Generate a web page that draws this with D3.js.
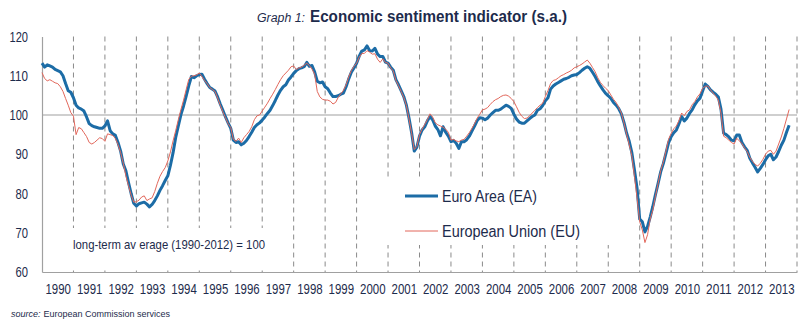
<!DOCTYPE html>
<html>
<head>
  <meta charset="UTF-8">
  <title>Economic sentiment indicator</title>
  <style>
    body { margin: 0; background: #fff; }
    svg { display: block; }
    text { font-family: "Liberation Sans", Arial, sans-serif; fill: #1d2b4c; }
  </style>
</head>
<body>
<svg id="chart"></svg>

<script src="https://d3js.org/d3.v7.min.js"></script>
<script>

// tick labels
const years = d3.range(1990, 2014);
const yTicks = [60, 70, 80, 90, 100, 110, 120];

// Euro Area, monthly from Jan 1990
const eaValues = [
  113.2, 112.2, 112.8, 112.5, 112.2, 111.6, 111.3, 111.0, 110.0, 108.0, 106.2, 105.8, // 1990
  104.4, 102.5, 101.8, 101.5, 101.0, 99.5, 97.8, 97.3, 97.0, 96.8, 96.6, 96.6,        // 1991
  97.2, 98.5, 96.0, 95.2, 94.8, 93.0, 90.8, 87.5, 85.8, 82.8, 80.0, 77.5,             // 1992
  76.8, 77.4, 77.6, 77.8, 77.3, 76.6, 77.2, 78.2, 79.4, 80.8, 82.0, 83.3,             // 1993
  84.5, 87.2, 90.4, 94.3, 97.2, 100.1, 102.3, 104.8, 107.5, 109.8, 109.5, 110.0,      // 1994
  110.3, 110.4, 109.1, 108.0, 107.0, 106.6, 106.1, 104.6, 102.8, 101.2, 99.5, 98.0,   // 1995
  96.6, 93.6, 93.0, 93.2, 92.4, 92.8, 93.5, 94.5, 95.6, 96.8, 97.5, 98.0,             // 1996
  98.7, 99.5, 100.4, 101.2, 102.4, 103.7, 105.1, 106.3, 107.2, 107.7, 108.9, 109.7,   // 1997
  110.6, 111.3, 111.8, 112.0, 112.3, 113.4, 112.4, 112.6, 111.0, 108.6, 108.2, 108.4, // 1998
  107.2, 106.7, 105.6, 104.7, 104.7, 104.9, 105.3, 105.6, 107.2, 109.2, 110.9, 112.0, // 1999
  113.2, 115.0, 116.3, 116.6, 117.6, 116.4, 116.3, 117.0, 115.5, 114.9, 114.9, 113.5, // 2000
  113.2, 112.2, 111.4, 109.0, 107.7, 106.2, 104.7, 102.5, 99.2, 95.5, 90.8, 91.8,     // 2001
  94.6, 96.2, 97.0, 98.5, 99.6, 98.8, 97.2, 96.3, 94.7, 97.0, 95.6, 94.6,             // 2002
  93.2, 93.5, 92.8, 91.5, 93.2, 93.2, 93.7, 94.6, 95.9, 97.2, 98.6, 99.3,             // 2003
  99.2, 98.8, 99.2, 100.0, 100.6, 101.2, 101.2, 101.5, 102.0, 102.5, 102.2, 101.7,    // 2004
  100.2, 99.0, 98.2, 97.9, 97.9, 98.5, 99.1, 99.6, 100.0, 101.2, 101.6, 102.4,        // 2005
  103.6, 104.4, 106.6, 107.4, 107.9, 108.3, 108.7, 109.1, 109.3, 109.6, 110.0, 110.2, // 2006
  110.3, 110.8, 111.4, 111.9, 112.3, 111.9, 110.9, 109.8, 108.5, 107.4, 106.4, 105.5, // 2007
  104.9, 104.2, 103.2, 102.5, 101.6, 100.3, 98.1, 95.4, 93.3, 90.4, 86.0, 81.3,       // 2008
  73.5, 72.8, 70.2, 71.6, 74.0, 76.7, 79.7, 82.5, 85.5, 87.6, 90.2, 92.9,             // 2009
  94.5, 95.5, 96.2, 97.8, 99.6, 98.5, 99.2, 100.4, 101.3, 102.6, 103.6, 104.3,        // 2010
  106.1, 107.9, 107.3, 106.4, 105.8, 105.3, 104.6, 101.5, 95.4, 95.0, 94.4, 93.6,     // 2011
  93.4, 94.9, 94.9, 93.0, 91.9, 91.0, 89.0, 87.8, 86.7, 85.5, 86.4, 87.4,             // 2012
  88.6, 89.6, 90.0, 88.6, 89.3, 90.7, 92.3, 93.6, 95.6, 97.4                          // 2013
];

// European Union, monthly from Jan 1990
const euValues = [
  110.8, 109.3, 108.7, 109.0, 108.6, 108.2, 108.0, 107.2, 106.0, 104.2, 102.5, 100.6, // 1990
  99.7, 95.0, 96.8, 96.5, 95.5, 94.5, 93.0, 92.6, 93.0, 93.6, 94.2, 94.0,             // 1991
  93.3, 95.2, 95.0, 94.8, 94.0, 92.5, 90.4, 87.7, 84.5, 82.0, 79.6, 77.8,             // 1992
  77.9, 78.3, 79.1, 79.4, 78.2, 78.6, 78.9, 80.5, 82.6, 84.4, 85.6, 86.6,             // 1993
  88.3, 90.6, 93.4, 96.0, 98.8, 101.4, 103.8, 106.5, 109.1, 109.9, 110.0, 110.2,      // 1994
  110.7, 109.8, 108.8, 108.0, 107.0, 106.5, 106.0, 104.3, 102.5, 100.8, 99.3, 97.8,   // 1995
  96.8, 93.8, 93.3, 94.1, 93.0, 94.2, 95.0, 95.8, 97.0, 98.8, 99.8, 100.0,            // 1996
  101.0, 102.0, 103.0, 104.2, 105.3, 106.5, 107.8, 109.0, 110.0, 110.7, 111.4, 112.3, // 1997
  112.5, 111.6, 112.0, 112.2, 112.7, 113.2, 112.6, 111.7, 110.4, 106.0, 104.6, 104.0, // 1998
  103.8, 103.8, 103.5, 102.8, 103.2, 104.5, 105.4, 106.3, 107.7, 109.7, 111.3, 112.4, // 1999
  113.2, 114.7, 115.7, 115.7, 116.4, 116.0, 115.5, 115.6, 114.2, 113.4, 114.3, 113.4, // 2000
  113.2, 112.0, 111.2, 108.8, 107.5, 106.0, 104.5, 102.4, 99.0, 95.3, 91.2, 92.0,     // 2001
  95.0, 96.4, 97.6, 98.8, 100.3, 99.5, 98.0, 97.5, 97.2, 96.9, 96.4, 95.6,            // 2002
  93.6, 93.8, 93.4, 93.2, 93.6, 93.8, 94.6, 95.5, 96.6, 97.8, 99.2, 100.2,            // 2003
  101.3, 101.5, 101.9, 102.7, 103.4, 103.9, 104.2, 104.7, 105.0, 105.1, 104.8, 104.2, // 2004
  103.4, 102.1, 100.7, 99.7, 99.1, 99.2, 99.8, 100.5, 101.2, 101.9, 102.5, 103.0,     // 2005
  104.7, 106.2, 108.0, 108.8, 109.0, 109.5, 110.0, 110.3, 110.7, 111.0, 111.4, 112.0, // 2006
  112.3, 112.6, 113.0, 113.5, 114.0, 113.2, 112.1, 111.0, 109.5, 108.3, 107.5, 106.8, // 2007
  106.2, 105.1, 104.0, 103.2, 101.9, 100.5, 98.0, 95.1, 92.4, 89.6, 84.3, 78.8,       // 2008
  72.8, 70.7, 67.5, 69.5, 73.5, 75.8, 79.3, 82.5, 85.8, 88.0, 90.8, 93.8,             // 2009
  95.3, 96.5, 97.2, 98.6, 100.5, 99.8, 100.9, 101.3, 102.6, 103.4, 104.6, 105.4,      // 2010
  106.8, 107.3, 107.4, 106.4, 105.6, 104.8, 103.8, 100.5, 94.6, 94.2, 93.6, 93.0,     // 2011
  92.6, 94.1, 93.4, 92.7, 91.6, 90.7, 89.2, 88.2, 87.4, 87.0, 87.7, 88.7,             // 2012
  90.0, 90.8, 91.0, 90.0, 90.8, 92.6, 94.4, 96.6, 99.0, 101.4                         // 2013
];

const width = 808, height = 325;
const plotLeft = 42, plotRight = 797, plotTop = 36.5, plotBottom = 272;

const svg = d3.select("#chart")
    .attr("width", width)
    .attr("height", height);

const x = d3.scaleLinear().domain([1990, 2014]).range([plotLeft, plotRight]);
const y = d3.scaleLinear().domain([60, 120]).range([plotBottom, plotTop]);

// the original font is a narrow one, squeeze text to the measured widths
function squeeze(sel, w) {
    sel.attr("textLength", w).attr("lengthAdjust", "spacingAndGlyphs");
}

// title
svg.append("text")
    .attr("x", 257).attr("y", 22)
    .attr("font-style", "italic")
    .attr("font-size", 12.5)
    .text("Graph 1:")
    .call(squeeze, 48);
svg.append("text")
    .attr("x", 310).attr("y", 22)
    .attr("font-weight", "bold")
    .attr("font-size", 17)
    .text("Economic sentiment indicator (s.a.)")
    .call(squeeze, 257);

// dashed year separators
svg.append("g")
    .selectAll("line")
    .data(d3.range(1991, 2015))
    .join("line")
    .attr("x1", d => x(d)).attr("x2", d => x(d))
    .attr("y1", plotTop).attr("y2", plotBottom)
    .attr("stroke", "#8a8a8a")
    .attr("stroke-width", 1)
    .attr("stroke-dasharray", "5,4");

// long-term average line
svg.append("line")
    .attr("x1", plotLeft).attr("x2", plotRight)
    .attr("y1", y(100)).attr("y2", y(100))
    .attr("stroke", "#a0a0a0")
    .attr("stroke-width", 1.2);

// white boxes behind the legend and the note
svg.append("rect")
    .attr("x", 385).attr("y", 180).attr("width", 240).attr("height", 65)
    .attr("fill", "#fff");
svg.append("rect")
    .attr("x", 68).attr("y", 228).attr("width", 204).attr("height", 42)
    .attr("fill", "#fff");

// axes
const yAxis = svg.append("g")
    .attr("transform", `translate(${plotLeft},0)`)
    .call(d3.axisLeft(y).tickValues(yTicks).tickSize(0).tickPadding(14));
const xAxis = svg.append("g")
    .attr("transform", `translate(0,${plotBottom})`)
    .call(d3.axisBottom(x).tickValues(years.map(d => d + 0.5)).tickFormat(d => Math.floor(d)).tickSize(0).tickPadding(12));
[yAxis, xAxis].forEach(a => {
    a.select(".domain").attr("stroke", "#a0a0a0").attr("stroke-width", 1.2);
    a.selectAll("text")
        .attr("font-size", 14.5)
        .attr("fill", "#1d2b4c")
        .style("font-family", '"Liberation Sans", Arial, sans-serif');
});
yAxis.selectAll("text").each(function(d) {
    d3.select(this).call(squeeze, d >= 100 ? 18.5 : 12.5);
});
xAxis.selectAll("text").call(squeeze, 25.5);

// series
const line = d3.line()
    .x((d, i) => x(1990 + i / 12))
    .y(d => y(d));

svg.append("path")
    .datum(eaValues)
    .attr("fill", "none")
    .attr("stroke", "#1c6ca6")
    .attr("stroke-width", 3)
    .attr("stroke-linejoin", "round")
    .attr("d", line);

svg.append("path")
    .datum(euValues)
    .attr("fill", "none")
    .attr("stroke", "#e2675b")
    .attr("stroke-width", 1)
    .attr("stroke-linejoin", "round")
    .attr("d", line);

// legend
const legend = svg.append("g");
const legendItems = [
    {label: "Euro Area (EA)", color: "#1c6ca6", w: 3, y: 196, len: 95},
    {label: "European Union (EU)", color: "#e2675b", w: 1, y: 231, len: 138}
];
legendItems.forEach(d => {
    legend.append("line")
        .attr("x1", 405).attr("x2", 438)
        .attr("y1", d.y).attr("y2", d.y)
        .attr("stroke", d.color)
        .attr("stroke-width", d.w);
    legend.append("text")
        .attr("x", 442)
        .attr("y", d.y + 5.5)
        .attr("font-size", 16)
        .text(d.label)
        .call(squeeze, d.len);
});

// note inside plot
svg.append("text")
    .attr("x", 73)
    .attr("y", 249)
    .attr("font-size", 13)
    .text("long-term av erage (1990-2012) = 100")
    .call(squeeze, 192);

// source
const src1 = svg.append("text")
    .attr("x", 11).attr("y", 317)
    .attr("font-size", 9)
    .attr("font-style", "italic")
    .text("source:");
const srcEnd = 11 + src1.node().getComputedTextLength() + 3;
svg.append("text")
    .attr("x", srcEnd).attr("y", 317)
    .attr("font-size", 9)
    .text("European Commission services");

</script>
</body>
</html>
